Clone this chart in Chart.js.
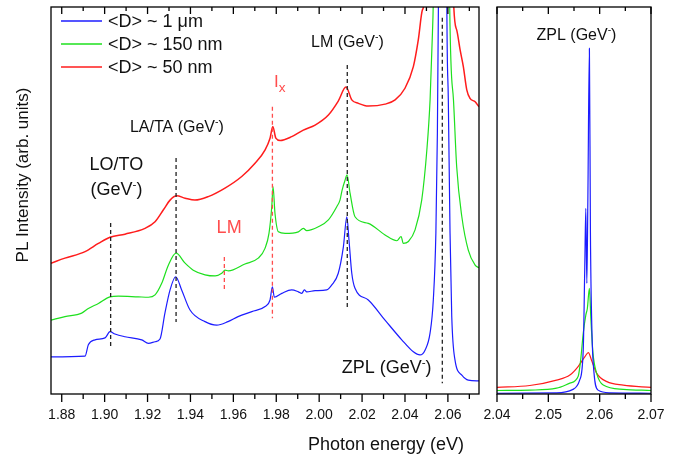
<!DOCTYPE html>
<html>
<head>
<meta charset="utf-8">
<title>PL spectra of GeV centres</title>
<script src="https://cdn.jsdelivr.net/npm/chart.js@4.4.0/dist/chart.umd.min.js"></script>
<style>
  html, body { margin: 0; padding: 0; background: #fff; }
  #wrap { position: relative; width: 678px; height: 456px; overflow: hidden; }
  #main { position: absolute; left: 0; top: 0; }
  #zpl { position: absolute; left: 470px; top: 0; }
</style>
</head>
<body>
<div id="wrap">
  <canvas id="main" width="490" height="456"></canvas>
  <canvas id="zpl" width="208" height="456"></canvas>
</div>
<script>
// Series names
const seriesNames = ['<D> ~ 1 \u03bcm', '<D> ~ 150 nm', '<D> ~ 50 nm'];

// Left panel: offset spectra (photon energy in eV, PL in arb. units)
const e1um = [1.8750, 1.8909, 1.8924, 1.8955, 1.9002, 1.9025, 1.9048, 1.9095, 1.9173, 1.9204, 1.9235, 1.9258, 1.9281, 1.9305, 1.9331, 1.9359, 1.9398, 1.9468, 1.9522, 1.9575, 1.9622, 1.9686, 1.9748, 1.9771, 1.9782, 1.9791, 1.9826, 1.9872, 1.9903, 1.9919, 1.9931, 1.9942, 1.9981, 2.0035, 2.0059, 2.0089, 2.0113, 2.0129, 2.0139, 2.0152, 2.0167, 2.0229, 2.0307, 2.0385, 2.0439, 2.0470, 2.0494, 2.0517, 2.0532, 2.0544, 2.0551, 2.0556, 2.0578, 2.0595, 2.0602, 2.0610, 2.0618, 2.0633, 2.0665, 2.0695, 2.0745];
const pl1um = [0.96, 0.98, 1.27, 1.40, 1.45, 1.61, 1.55, 1.48, 1.40, 1.31, 1.35, 1.42, 2.09, 2.69, 3.03, 2.69, 2.17, 1.87, 1.78, 1.87, 2.00, 2.13, 2.26, 2.43, 2.77, 2.50, 2.60, 2.69, 2.64, 2.60, 2.69, 2.64, 2.67, 2.69, 2.82, 3.12, 3.81, 4.58, 3.98, 3.12, 2.73, 2.43, 1.91, 1.40, 1.09, 1.01, 1.14, 1.58, 2.43, 4.16, 6.74, 10.2, 40, 10.2, 7.60, 4.16, 2.00, 0.88, 0.49, 0.36, 0.34];

const e150nm = [1.8750, 1.8815, 1.8893, 1.8924, 1.8971, 1.9025, 1.9064, 1.9157, 1.9204, 1.9235, 1.9266, 1.9297, 1.9333, 1.9375, 1.9413, 1.9468, 1.9515, 1.9546, 1.9561, 1.9577, 1.9654, 1.9716, 1.9748, 1.9766, 1.9779, 1.9785, 1.9794, 1.9810, 1.9841, 1.9903, 1.9926, 1.9942, 1.9996, 2.0043, 2.0082, 2.0097, 2.0107, 2.0121, 2.0130, 2.0144, 2.0167, 2.0229, 2.0307, 2.0362, 2.0382, 2.0392, 2.0416, 2.0447, 2.0478, 2.0502, 2.0517, 2.0528, 2.0532, 2.0578, 2.0608, 2.0626, 2.0641, 2.0665, 2.0695, 2.0727, 2.0745];
const pl150nm = [1.91, 2.00, 2.09, 2.21, 2.34, 2.51, 2.53, 2.51, 2.50, 2.56, 2.86, 3.33, 3.64, 3.38, 3.20, 3.08, 3.05, 3.12, 3.20, 3.18, 3.36, 3.51, 3.77, 4.15, 4.84, 5.36, 4.67, 4.19, 4.15, 4.19, 4.28, 4.22, 4.32, 4.50, 4.84, 5.01, 5.27, 5.53, 5.66, 5.19, 4.58, 4.41, 4.11, 3.96, 4.07, 3.89, 3.94, 4.24, 5.01, 6.31, 7.60, 9.33, 10.2, 40, 10.2, 7.60, 5.87, 4.58, 3.72, 3.33, 3.26];

const e50nm = [1.8750, 1.8815, 1.8909, 1.8971, 1.9025, 1.9095, 1.9188, 1.9235, 1.9274, 1.9305, 1.9336, 1.9375, 1.9421, 1.9483, 1.9561, 1.9639, 1.9701, 1.9748, 1.9771, 1.9784, 1.9798, 1.9818, 1.9872, 1.9926, 1.9981, 2.0043, 2.0089, 2.0125, 2.0152, 2.0183, 2.0229, 2.0307, 2.0354, 2.0400, 2.0439, 2.0462, 2.0481, 2.0490, 2.0578, 2.0626, 2.0641, 2.0657, 2.0672, 2.0688, 2.0703, 2.0727, 2.0745];
const pl50nm = [3.38, 3.51, 3.68, 3.89, 4.05, 4.13, 4.28, 4.45, 4.76, 5.01, 5.12, 5.06, 5.01, 5.10, 5.32, 5.62, 5.96, 6.31, 6.61, 6.91, 6.61, 6.55, 6.65, 6.82, 6.95, 7.21, 7.57, 7.93, 7.60, 7.51, 7.44, 7.49, 7.60, 7.90, 8.46, 9.15, 9.92, 10.2, 40, 10.2, 9.41, 8.89, 8.46, 7.86, 7.64, 7.55, 7.42];

// Right panel: zero-phonon line, full height
const eZpl1um = [2.0400, 2.0516, 2.0548, 2.0561, 2.0568, 2.0571, 2.0573, 2.0575, 2.0577, 2.0580, 2.0582, 2.0585, 2.0589, 2.0597, 2.0620, 2.0700];
const plZpl1um = [0.02, 0.03, 0.12, 0.36, 1.14, 3.29, 4.80, 2.86, 5.01, 8.93, 4.16, 1.58, 0.54, 0.10, 0.03, 0.02];
const eZpl150nm = [2.0400, 2.0464, 2.0516, 2.0542, 2.0558, 2.0563, 2.0568, 2.0573, 2.0576, 2.0580, 2.0583, 2.0587, 2.0594, 2.0607, 2.0646, 2.0700];
const plZpl150nm = [0.09, 0.10, 0.15, 0.28, 0.45, 0.88, 1.57, 2.04, 2.21, 2.73, 1.91, 1.05, 0.54, 0.23, 0.12, 0.09];
const eZpl50nm = [2.0400, 2.0464, 2.0516, 2.0542, 2.0558, 2.0571, 2.0578, 2.0584, 2.0594, 2.0614, 2.0646, 2.0700];
const plZpl50nm = [0.17, 0.22, 0.36, 0.49, 0.71, 0.96, 1.07, 0.88, 0.54, 0.32, 0.23, 0.17];

// Line assignments (dashed markers)
const phononMarkE = [1.9028, 1.9333, 2.0131, 2.0574];
const phononMarkTop = [4.42, 6.10, 8.50, 9.72];
const phononMarkBottom = [1.19, 1.86, 2.17, 0.28];
const otherMarkE = [1.9782, 1.9558];
const otherMarkTop = [7.42, 3.54];
const otherMarkBottom = [1.96, 2.69];

// Axis ticks
const mainTickLabels = ['1.88', '1.90', '1.92', '1.94', '1.96', '1.98', '2.00', '2.02', '2.04', '2.06'];
const mainMinorTicks = [1.89, 1.91, 1.93, 1.95, 1.97, 1.99, 2.01, 2.03, 2.05, 2.07];
const zplTickLabels = ['2.04', '2.05', '2.06', '2.07'];
const zplMinorTicks = [2.045, 2.055, 2.065];

const FONT = '"Liberation Sans", Arial, sans-serif';
const BLUE = '#1c1cff', GREEN = '#1ee01e', RED = '#ff1c1c';
const MARK_RED = '#ff4d4d';
const colors = [BLUE, GREEN, RED];

function xy(es, vs) {
    return es.map((e, i) => ({ x: e, y: vs[i] }));
}

function curve(es, vs, color, width) {
    return {
        data: xy(es, vs), borderColor: color, borderWidth: width || 1.2,
        cubicInterpolationMode: 'monotone', clip: 0
    };
}

function markers(es, tops, bottoms, color) {
    return es.map((e, i) => ({
        data: [{ x: e, y: tops[i] }, { x: e, y: bottoms[i] }],
        borderColor: color, borderWidth: 1.3, borderDash: [4, 3]
    }));
}

// text with ^{..} superscripts and _{..} subscripts
function drawRich(ctx, text, x, y, size, color, align) {
    const segs = text.split(/(\^\{[^}]*\}|_\{[^}]*\})/).filter(s => s).map(p => {
        if (p[0] === '^') return { t: p.slice(2, -1), size: size * 0.65, dy: -size * 0.42 };
        if (p[0] === '_') return { t: p.slice(2, -1), size: size * 0.8, dy: size * 0.33 };
        return { t: p, size: size, dy: 0 };
    });
    let w = 0;
    segs.forEach(s => {
        ctx.font = s.size + 'px ' + FONT;
        s.w = ctx.measureText(s.t).width;
        w += s.w;
    });
    let cx = align === 'center' ? x - w / 2 : x;
    ctx.fillStyle = color;
    ctx.textAlign = 'left';
    ctx.textBaseline = 'alphabetic';
    segs.forEach(s => {
        ctx.font = s.size + 'px ' + FONT;
        ctx.fillText(s.t, cx, y + s.dy);
        cx += s.w;
    });
}

function drawFrame(chart, majors, minors) {
    const { ctx, chartArea: a, scales: { x } } = chart;
    ctx.save();
    ctx.strokeStyle = '#000';
    ctx.lineWidth = 1.3;
    ctx.strokeRect(a.left, a.top, a.right - a.left, a.bottom - a.top);
    ctx.beginPath();
    majors.forEach(v => {
        const px = x.getPixelForValue(v);
        ctx.moveTo(px, a.bottom); ctx.lineTo(px, a.bottom + 8);
        ctx.moveTo(px, a.top); ctx.lineTo(px, a.top + 7);
    });
    minors.forEach(v => {
        const px = x.getPixelForValue(v);
        ctx.moveTo(px, a.bottom); ctx.lineTo(px, a.bottom + 5);
        ctx.moveTo(px, a.top); ctx.lineTo(px, a.top + 4);
    });
    ctx.stroke();
    ctx.restore();
}

function drawNotes(chart, notes) {
    const { ctx, scales: { x, y } } = chart;
    ctx.save();
    notes.forEach(n => drawRich(ctx, n.text, x.getPixelForValue(n.e), y.getPixelForValue(n.v), n.size, n.color, n.align));
    ctx.restore();
}

const mainNotes = [
    { text: 'LO/TO', e: 1.9055, v: 5.79, size: 18, color: '#111', align: 'center' },
    { text: '(GeV^{-})', e: 1.9055, v: 5.14, size: 18, color: '#111', align: 'center' },
    { text: 'LA/TA (GeV^{-})', e: 1.9118, v: 6.78, size: 16, color: '#111', align: 'left' },
    { text: 'LM', e: 1.9522, v: 4.17, size: 18, color: MARK_RED, align: 'left' },
    { text: 'I_{x}', e: 1.9790, v: 7.94, size: 17, color: MARK_RED, align: 'left' },
    { text: 'LM (GeV^{-})', e: 1.9962, v: 8.97, size: 16, color: '#111', align: 'left' },
    { text: 'ZPL (GeV^{-})', e: 2.0105, v: 0.535, size: 18, color: '#111', align: 'left' }
];
const zplNotes = [
    { text: 'ZPL (GeV^{-})', e: 2.0477, v: 9.15, size: 16, color: '#111', align: 'left' }
];

const mainDecor = {
    id: 'mainDecor',
    afterDraw(chart) {
        const { ctx, chartArea: a } = chart;
        drawFrame(chart, mainTickLabels.map(parseFloat), mainMinorTicks);
        drawNotes(chart, mainNotes);

        // legend in the upper left corner
        ctx.save();
        seriesNames.forEach((name, i) => {
            const ly = a.top + 14 + i * 23;
            ctx.strokeStyle = colors[i];
            ctx.lineWidth = 1.3;
            ctx.beginPath();
            ctx.moveTo(61, ly);
            ctx.lineTo(102, ly);
            ctx.stroke();
            ctx.fillStyle = '#111';
            ctx.font = '18px ' + FONT;
            ctx.textAlign = 'left';
            ctx.textBaseline = 'alphabetic';
            ctx.fillText(name, 108, ly + 6);
        });

        // axis titles
        ctx.fillStyle = '#111';
        ctx.font = '18px ' + FONT;
        ctx.textAlign = 'center';
        ctx.fillText('Photon energy (eV)', 386, 450);
        ctx.translate(28, 175);
        ctx.rotate(-Math.PI / 2);
        ctx.font = '17px ' + FONT;
        ctx.fillText('PL Intensity (arb. units)', 0, 0);
        ctx.restore();
    }
};

const zplDecor = {
    id: 'zplDecor',
    afterDraw(chart) {
        drawFrame(chart, zplTickLabels.map(parseFloat), zplMinorTicks);
        drawNotes(chart, zplNotes);
    }
};

function xAxis(min, max, labels) {
    return {
        type: 'linear', min: min, max: max,
        afterBuildTicks: s => { s.ticks = labels.map(t => ({ value: parseFloat(t) })); },
        afterFit: s => { s.height = 62; },
        grid: { display: false, drawTicks: false },
        border: { display: false },
        ticks: {
            autoSkip: false, maxRotation: 0, padding: 13, color: '#111',
            font: { size: 14, family: FONT },
            callback: (v, i) => labels[i]
        }
    };
}

const commonOptions = {
    responsive: false,
    animation: false,
    plugins: { legend: { display: false }, tooltip: { enabled: false } },
    elements: { point: { radius: 0 }, line: { tension: 0 } }
};

new Chart(document.getElementById('main'), {
    type: 'line',
    data: {
        datasets: [
            ...markers(phononMarkE, phononMarkTop, phononMarkBottom, '#222'),
            ...markers(otherMarkE, otherMarkTop, otherMarkBottom, MARK_RED),
            curve(e1um, pl1um, BLUE),
            curve(e150nm, pl150nm, GREEN),
            curve(e50nm, pl50nm, RED, 1.5)
        ]
    },
    options: {
        ...commonOptions,
        layout: { padding: { left: 51, right: 11, top: 7, bottom: 0 } },
        scales: {
            x: xAxis(1.875, 2.0745, mainTickLabels),
            y: { display: false, min: 0, max: 10 }
        }
    },
    plugins: [mainDecor]
});

new Chart(document.getElementById('zpl'), {
    type: 'line',
    data: {
        datasets: [
            curve(eZpl1um, plZpl1um, BLUE),
            curve(eZpl150nm, plZpl150nm, GREEN),
            curve(eZpl50nm, plZpl50nm, RED)
        ]
    },
    options: {
        ...commonOptions,
        layout: { padding: { left: 27, right: 27, top: 7, bottom: 0 } },
        scales: {
            x: xAxis(2.04, 2.07, zplTickLabels),
            y: { display: false, min: 0, max: 10 }
        }
    },
    plugins: [zplDecor]
});
</script>
</body>
</html>
